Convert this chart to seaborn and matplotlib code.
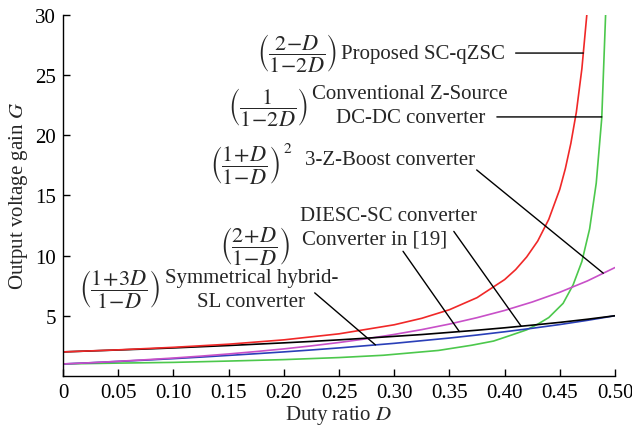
import pandas as pd
import numpy as np
import matplotlib
matplotlib.use("Agg")
import matplotlib.pyplot as plt
import seaborn as sns

# Settings
sns.set_theme(style="ticks")
plt.rcParams['font.family'] = ['Liberation Serif', 'DejaVu Serif']
plt.rcParams['mathtext.fontset'] = 'stix'
FS = 15
FS_EQ = 16

# duty ratio grid shared by the three slow curves
duty = [0, 0.025, 0.05, 0.075, 0.1, 0.125, 0.15, 0.175, 0.2, 0.225, 0.25,
        0.275, 0.3, 0.325, 0.35, 0.375, 0.4, 0.425, 0.45, 0.475, 0.5]
gain_diesc = [2.00, 2.08, 2.16, 2.24, 2.33, 2.43, 2.53, 2.64, 2.75, 2.87, 3.00,
              3.14, 3.29, 3.44, 3.62, 3.80, 4.00, 4.22, 4.45, 4.71, 5.00]
gain_hybrid = [1.00, 1.10, 1.21, 1.32, 1.44, 1.57, 1.71, 1.85, 2.00, 2.16, 2.33,
               2.52, 2.71, 2.93, 3.15, 3.40, 3.67, 3.96, 4.27, 4.62, 5.00]
gain_3z = [1.00, 1.10, 1.22, 1.35, 1.49, 1.65, 1.83, 2.03, 2.25, 2.50, 2.78,
           3.09, 3.45, 3.85, 4.31, 4.84, 5.44, 6.14, 6.95, 7.89, 9.00]

# proposed SC-qZSC
duty_sc = [0, 0.05, 0.1, 0.15, 0.2, 0.25, 0.3, 0.325, 0.35, 0.375, 0.4, 0.41,
           0.42, 0.43, 0.44, 0.45, 0.455, 0.46, 0.465, 0.47, 0.4745]
gain_sc = [2.00, 2.17, 2.38, 2.64, 3.00, 3.50, 4.25, 4.79, 5.50, 6.50, 8.00, 8.83,
           9.88, 11.2, 13.0, 15.5, 17.2, 19.3, 21.9, 25.5, 30.0]

# conventional Z-source dc-dc
duty_zs = [0, 0.05, 0.1, 0.15, 0.2, 0.25, 0.29, 0.31, 0.34, 0.37, 0.39, 0.405,
           0.42, 0.43, 0.44, 0.453, 0.462, 0.47, 0.477, 0.483, 0.488, 0.4915]
gain_zs = [1.00, 1.07, 1.13, 1.24, 1.36, 1.53, 1.72, 1.88, 2.12, 2.55, 2.90, 3.36,
           3.83, 4.30, 4.85, 6.03, 7.55, 9.50, 12.2, 16.0, 21.4, 30.0]

x_ticks = [0, 0.05, 0.10, 0.15, 0.20, 0.25, 0.30, 0.35, 0.40, 0.45, 0.50]
x_tick_labels = ["0", "0.05", "0.10", "0.15", "0.20", "0.25", "0.30",
                 "0.35", "0.40", "0.45", "0.50"]
y_ticks = [5, 10, 15, 20, 25, 30]

colors = {
    'zs': '#4cc84c',
    'hybrid': '#2a3fb8',
    '3z': '#c850c8',
    'diesc': '#000000',
    'sc': '#f02828',
}


def build_frame():
    parts = [
        pd.DataFrame({'D': duty_zs, 'G': gain_zs, 'curve': 'zs'}),
        pd.DataFrame({'D': duty, 'G': gain_hybrid, 'curve': 'hybrid'}),
        pd.DataFrame({'D': duty, 'G': gain_3z, 'curve': '3z'}),
        pd.DataFrame({'D': duty, 'G': gain_diesc, 'curve': 'diesc'}),
        pd.DataFrame({'D': duty_sc, 'G': gain_sc, 'curve': 'sc'}),
    ]
    return pd.concat(parts, ignore_index=True)


def leader(ax, start, end):
    ax.annotate("", xy=end, xytext=start,
                arrowprops=dict(arrowstyle='-', color='black', lw=1.0,
                                shrinkA=0, shrinkB=0))


def main():
    df = build_frame()

    fig = plt.figure(figsize=(6.32, 4.31), dpi=100)
    ax = fig.add_axes([63 / 632, 1 - 377 / 431, 552 / 632, 361.5 / 431])

    sns.lineplot(data=df, x='D', y='G', hue='curve', palette=colors,
                 sort=False, estimator=None, legend=False, lw=1.2, ax=ax)

    ax.set_xlim(0, 0.5)
    ax.set_ylim(0, 30)
    ax.set_xticks(x_ticks)
    ax.set_xticklabels(x_tick_labels)
    ax.set_yticks(y_ticks)
    ax.tick_params(direction='in', length=5, width=1, colors='black',
                   labelsize=FS, pad=5)
    sns.despine(ax=ax)
    for s in ['left', 'bottom']:
        ax.spines[s].set_color('black')
        ax.spines[s].set_linewidth(1.0)
    ax.set_xlabel(r"Duty ratio $D$", fontsize=FS, labelpad=1)
    ax.set_ylabel(r"Output voltage gain $G$", fontsize=FS, labelpad=4)

    # formulas
    ax.text(0.2120, 26.9, r"$\left(\dfrac{2\!-\!D}{1\!-\!2D}\right)$",
            fontsize=FS_EQ, ha='center', va='center')
    ax.text(0.1860, 22.4, r"$\left(\dfrac{1}{1\!-\!2D}\right)$",
            fontsize=FS_EQ, ha='center', va='center')
    ax.text(0.1650, 17.6, r"$\left(\dfrac{1\!+\!D}{1\!-\!D}\right)$",
            fontsize=FS_EQ, ha='center', va='center')
    ax.text(0.1990, 18.9, r"$2$", fontsize=11, ha='left', va='center')
    ax.text(0.1740, 10.9, r"$\left(\dfrac{2\!+\!D}{1\!-\!D}\right)$",
            fontsize=FS_EQ, ha='center', va='center')
    ax.text(0.0515, 7.3, r"$\left(\dfrac{1\!+\!3D}{1\!-\!D}\right)$",
            fontsize=FS_EQ, ha='center', va='center')

    # labels
    ax.text(0.2516, 26.8, "Proposed SC-qZSC", fontsize=FS, va='center')
    ax.text(0.2258, 23.45, "Conventional Z-Source", fontsize=FS, va='center')
    ax.text(0.2470, 21.46, "DC-DC converter", fontsize=FS, va='center')
    ax.text(0.2190, 18.0, "3-Z-Boost converter", fontsize=FS, va='center')
    ax.text(0.2147, 13.3, "DIESC-SC converter", fontsize=FS, va='center')
    ax.text(0.2165, 11.35, "Converter in [19]", fontsize=FS, va='center')
    ax.text(0.0924, 8.2, "Symmetrical hybrid-", fontsize=FS, va='center')
    ax.text(0.1210, 6.2, "SL converter", fontsize=FS, va='center')

    # leader lines, ending on the curves
    g = 26.8
    leader(ax, (0.410, g), (np.interp(g, gain_sc, duty_sc), g))
    g = 21.5
    leader(ax, (0.393, g), (np.interp(g, gain_zs, duty_zs), g))
    d = 0.4894
    leader(ax, (0.3747, 17.1), (d, np.interp(d, duty, gain_3z)))
    d = 0.415
    leader(ax, (0.354, 12.0), (d, np.interp(d, duty, gain_diesc)))
    d = 0.359
    leader(ax, (0.308, 10.35), (d, np.interp(d, duty, gain_diesc)))
    d = 0.283
    leader(ax, (0.228, 6.9), (d, np.interp(d, duty, gain_hybrid)))

    fig.savefig("out.png", dpi=100, facecolor='white')
    plt.close(fig)


if __name__ == "__main__":
    main()
